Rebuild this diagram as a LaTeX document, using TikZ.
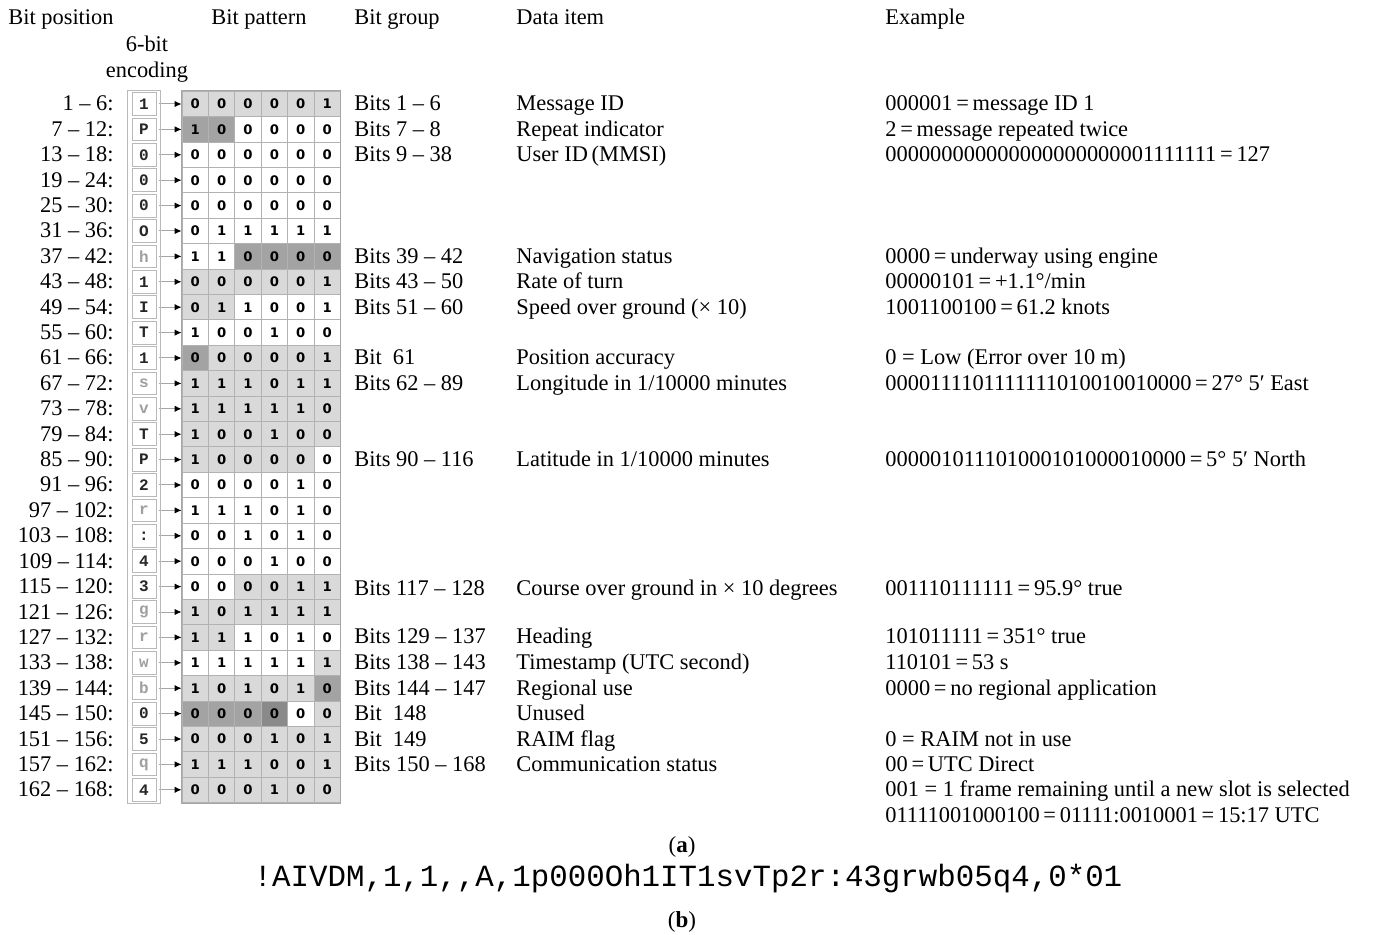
\documentclass[tikz,border=0pt]{standalone}
\usepackage{fontspec}
\setmainfont{Liberation Serif}
\newfontfamily\encfont{Liberation Mono}
\newfontfamily\bitfont{DejaVu Sans}
\usetikzlibrary{arrows.meta}
\colorlet{cellw}{white}
\colorlet{celll}{gray!30}
\colorlet{celld}{gray!72}
\colorlet{cellk}{gray!92}
\colorlet{encdark}{black!85}
\colorlet{enclight}{gray!75}

\begin{document}
\begin{tikzpicture}[x={(0.5pt,0)}, y={(0,-0.5pt)},
% common options for texts:
txt/.style = {anchor=base west, inner sep=0, font=\fontsize{11.2}{13}\selectfont},
poslabel/.style = {anchor=base east, inner sep=0, font=\fontsize{11.2}{13}\selectfont},
% common options for the boxes:
encbox/.style = {draw=gray!55, fill=white, minimum width=12pt, minimum height=11.4pt,
            inner sep=0, font=\encfont\bfseries\fontsize{8}{9}\selectfont},
bitbox/.style = {draw=gray!60, minimum width=13.2pt, minimum height=12.7pt,
            inner sep=0, font=\bitfont\bfseries\fontsize{6.6}{7}\selectfont},
arr/.style = {draw=gray!70, line width=0.5pt, shorten <=1.5pt,
            -{Latex[length=3.5pt,width=3.2pt,color=black]}}]
\useasboundingbox (0,0) rectangle (1376,935);
% headers
\node[txt] (H0) at (8,25) {Bit position};
\node[txt] (H1) at (211,25) {Bit pattern};
\node[txt] (H2) at (354,25) {Bit group};
\node[txt] (H3) at (516,25) {Data item};
\node[txt] (H4) at (885,25) {Example};
\node[inner sep=0, anchor=base, font=\fontsize{11.2}{13}\selectfont] (H5) at (147,52) {6-bit};
\node[inner sep=0, anchor=base, font=\fontsize{11.2}{13}\selectfont] (H6) at (147,78) {encoding};
% bit positions
\foreach \p [count=\i] in {1 -- 6, 7 -- 12, 13 -- 18, 19 -- 24, 25 -- 30, 31 -- 36,
    37 -- 42, 43 -- 48, 49 -- 54, 55 -- 60, 61 -- 66, 67 -- 72, 73 -- 78, 79 -- 84,
    85 -- 90, 91 -- 96, 97 -- 102, 103 -- 108, 109 -- 114, 115 -- 120, 121 -- 126,
    127 -- 132, 133 -- 138, 139 -- 144, 145 -- 150, 151 -- 156, 157 -- 162, 162 -- 168}
  \node[poslabel] (P\i) at (114,{85.6+25.4*\i}) {\p:};
% encoding and bit pattern
\foreach \r/\ch/\chc/\cells in {
  1/1/encdark/{0/l,0/l,0/l,0/l,0/l,1/l},
  2/P/encdark/{1/d,0/d,0/w,0/w,0/w,0/w},
  3/0/encdark/{0/w,0/w,0/w,0/w,0/w,0/w},
  4/0/encdark/{0/w,0/w,0/w,0/w,0/w,0/w},
  5/0/encdark/{0/w,0/w,0/w,0/w,0/w,0/w},
  6/O/encdark/{0/w,1/w,1/w,1/w,1/w,1/w},
  7/h/enclight/{1/w,1/w,0/d,0/d,0/d,0/d},
  8/1/encdark/{0/l,0/l,0/l,0/l,0/l,1/l},
  9/I/encdark/{0/l,1/l,1/w,0/w,0/w,1/w},
  10/T/encdark/{1/w,0/w,0/w,1/w,0/w,0/w},
  11/1/encdark/{0/d,0/l,0/l,0/l,0/l,1/l},
  12/s/enclight/{1/l,1/l,1/l,0/l,1/l,1/l},
  13/v/enclight/{1/l,1/l,1/l,1/l,1/l,0/l},
  14/T/encdark/{1/l,0/l,0/l,1/l,0/l,0/l},
  15/P/encdark/{1/l,0/l,0/l,0/l,0/l,0/w},
  16/2/encdark/{0/w,0/w,0/w,0/w,1/w,0/w},
  17/r/enclight/{1/w,1/w,1/w,0/w,1/w,0/w},
  18/:/encdark/{0/w,0/w,1/w,0/w,1/w,0/w},
  19/4/encdark/{0/w,0/w,0/w,1/w,0/w,0/w},
  20/3/encdark/{0/w,0/w,0/l,0/l,1/l,1/l},
  21/g/enclight/{1/l,0/l,1/l,1/l,1/l,1/l},
  22/r/enclight/{1/l,1/l,1/w,0/w,1/w,0/w},
  23/w/enclight/{1/w,1/w,1/w,1/w,1/w,1/l},
  24/b/enclight/{1/l,0/l,1/l,0/l,1/l,0/d},
  25/0/encdark/{0/d,0/d,0/d,0/k,0/w,0/l},
  26/5/encdark/{0/l,0/l,0/l,1/l,0/l,1/l},
  27/q/enclight/{1/l,1/l,1/l,0/l,0/l,1/l},
  28/4/encdark/{0/l,0/l,0/l,1/l,0/l,0/l}}
{
  \node[encbox, text=\chc] (E\r) at (144,{78.6+25.4*\r}) {\ch};
  \foreach \b/\s [count=\c] in \cells
    \node[bitbox, fill=cell\s] (B\r-\c) at ({168.8+26.4*\c},{78.6+25.4*\r}) {\b};
  \draw[arr] (E\r.east) -- (B\r-1.west);
}
\draw[gray!55] ([shift={(-2pt,1pt)}]E1.north west) rectangle ([shift={(2pt,-1pt)}]E28.south east);
\draw[gray!70] (B1-1.north west) rectangle (B28-6.south east);
% bit groups
\node[txt] (G1) at (354,111) {Bits 1 -- 6};
\node[txt] (G2) at (354,136.4) {Bits 7 -- 8};
\node[txt] (G3) at (354,161.8) {Bits 9 -- 38};
\node[txt] (G7) at (354,263.4) {Bits 39 -- 42};
\node[txt] (G8) at (354,288.8) {Bits 43 -- 50};
\node[txt] (G9) at (354,314.2) {Bits 51 -- 60};
\node[txt] (G11) at (354,365) {Bit\ \ 61};
\node[txt] (G12) at (354,390.4) {Bits 62 -- 89};
\node[txt] (G15) at (354,466.6) {Bits 90 -- 116};
\node[txt] (G20) at (354,595) {Bits 117 -- 128};
\node[txt] (G22) at (354,643) {Bits 129 -- 137};
\node[txt] (G23) at (354,669.8) {Bits 138 -- 143};
\node[txt] (G24) at (354,695.2) {Bits 144 -- 147};
\node[txt] (G25) at (354,720.6) {Bit\ \ 148};
\node[txt] (G26) at (354,746) {Bit\ \ 149};
\node[txt] (G27) at (354,771.4) {Bits 150 -- 168};
% data items
\node[txt] (D1) at (516,111) {Message ID};
\node[txt] (D2) at (516,136.4) {Repeat indicator};
\node[txt] (D3) at (516,161.8) {User ID\,(MMSI)};
\node[txt] (D7) at (516,263.4) {Navigation status};
\node[txt] (D8) at (516,288.8) {Rate of turn};
\node[txt] (D9) at (516,314.2) {Speed over ground (× 10)};
\node[txt] (D11) at (516,365) {Position accuracy};
\node[txt] (D12) at (516,390.4) {Longitude in 1/10000 minutes};
\node[txt] (D15) at (516,466.6) {Latitude in 1/10000 minutes};
\node[txt] (D20) at (516,595) {Course over ground in × 10 degrees};
\node[txt] (D22) at (516,643) {Heading};
\node[txt] (D23) at (516,669.8) {Timestamp (UTC second)};
\node[txt] (D24) at (516,695.2) {Regional use};
\node[txt] (D25) at (516,720.6) {Unused};
\node[txt] (D26) at (516,746) {RAIM flag};
\node[txt] (D27) at (516,771.4) {Communication status};
% examples
\node[txt] (X1) at (885,111) {000001\,=\,message ID 1};
\node[txt] (X2) at (885,136.4) {2\,=\,message repeated twice};
\node[txt] (X3) at (885,161.8) {000000000000000000000001111111\,=\,127};
\node[txt] (X7) at (885,263.4) {0000\,=\,underway using engine};
\node[txt] (X8) at (885,288.8) {00000101\,=\,+1.1°/min};
\node[txt] (X9) at (885,314.2) {1001100100\,=\,61.2 knots};
\node[txt] (X11) at (885,365) {0 = Low (Error over 10 m)};
\node[txt] (X12) at (885,390.4) {0000111101111111010010010000\,=\,27° 5′ East};
\node[txt] (X15) at (885,466.6) {000001011101000101000010000\,=\,5° 5′ North};
\node[txt] (X20) at (885,595) {001110111111\,=\,95.9° true};
\node[txt] (X22) at (885,643) {101011111\,=\,351° true};
\node[txt] (X23) at (885,669.8) {110101\,=\,53 s};
\node[txt] (X24) at (885,695.2) {0000\,=\,no regional application};
\node[txt] (X26) at (885,746) {0 = RAIM not in use};
\node[txt] (X27) at (885,771.4) {00\,=\,UTC Direct};
\node[txt] (X28) at (885,796.8) {001 = 1 frame remaining until a new slot is selected};
\node[txt] (X29) at (885,822.5) {01111001000100\,=\,01111:0010001\,=\,15:17 UTC};
% captions and sentence
\node[inner sep=0, anchor=base, font=\fontsize{11.5}{13}\selectfont] (CA) at (682,852) {(\textbf{a})};
\node[inner sep=0, anchor=base, font=\encfont\fontsize{15.4}{17}\selectfont] (S0) at (688,886) {!AIVDM,1,1,,A,1p000Oh1IT1svTp2r:43grwb05q4,0*01};
\node[inner sep=0, anchor=base, font=\fontsize{11.5}{13}\selectfont] (CB) at (682,927) {(\textbf{b})};
\end{tikzpicture}
\end{document}
